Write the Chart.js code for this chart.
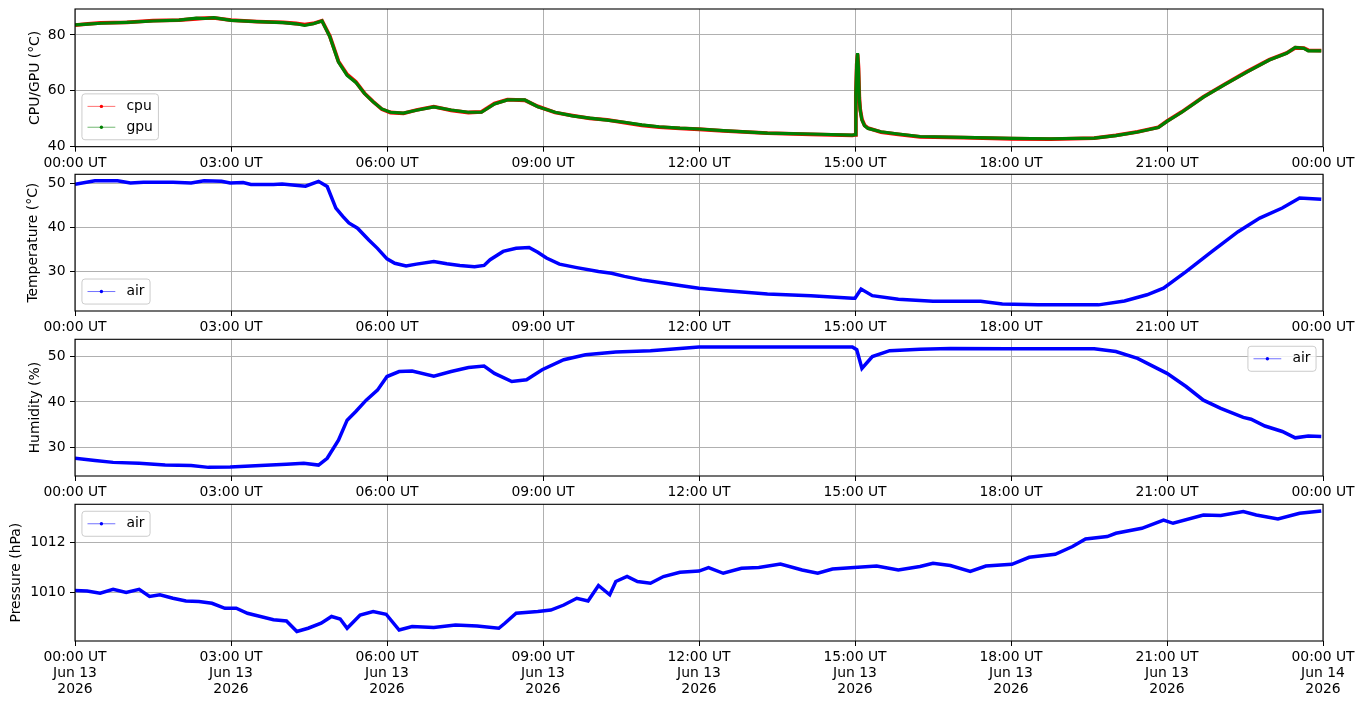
<!DOCTYPE html>
<html lang="en">
<head>
    <meta charset="UTF-8">
    <title>Sensor log, Jun 13 2026</title>
    <script src="https://cdn.jsdelivr.net/npm/chart.js"></script>
    <style>
        body { margin: 0; background: #fff; }
        #figure { position: relative; width: 1364px; height: 707px; }
        #figure canvas { position: absolute; left: 0; }
    </style>
</head>
<body>
<div id="figure">
    <canvas id="cpuChart" width="1364" height="175" style="top:0px"></canvas>
    <canvas id="tempChart" width="1364" height="175" style="top:165px"></canvas>
    <canvas id="humChart" width="1364" height="175" style="top:330px"></canvas>
    <canvas id="presChart" width="1364" height="212" style="top:495px"></canvas>
</div>
<script>
    // x values are minutes after 00:00 UT, Jun 13 2026
    const xTicks = [0, 180, 360, 540, 720, 900, 1080, 1260, 1440];
    const xTickLabels = ['00:00 UT', '03:00 UT', '06:00 UT', '09:00 UT', '12:00 UT', '15:00 UT', '18:00 UT', '21:00 UT', '00:00 UT'];
    const xDateLabels = ['Jun 13', 'Jun 13', 'Jun 13', 'Jun 13', 'Jun 13', 'Jun 13', 'Jun 13', 'Jun 13', 'Jun 14'];
    const xYearLabels = ['2026', '2026', '2026', '2026', '2026', '2026', '2026', '2026', '2026'];

    // CPU / GPU temperature
    const chipTimes = [0, 15, 30, 60, 90, 120, 140, 150, 160, 180, 210, 240, 255, 265, 275, 285, 294, 304, 314, 324,
        334, 344, 354, 364, 379, 394, 414, 434, 454, 469, 484, 499, 519, 534, 554, 574, 594, 614, 634, 654,
        674, 698, 720, 748, 799, 849, 897, 900, 901, 902, 903, 904, 905, 906, 908, 911, 915, 930, 950, 975,
        1025, 1081, 1126, 1176, 1201, 1226, 1250, 1260, 1277, 1302, 1327, 1352, 1378, 1398, 1408, 1418, 1423, 1438];
    const cpuValues = [83.5, 84.0, 84.3, 84.5, 85.1, 85.3, 85.8, 86.0, 86.1, 85.3, 84.8, 84.5, 84.1, 83.7, 84.1, 85.1, 79.6, 70.5, 65.8, 63.2,
        59.1, 56.1, 53.4, 52.2, 51.9, 53.1, 54.3, 53.0, 52.2, 52.4, 55.4, 56.8, 56.6, 54.4, 52.2, 51.1, 50.1, 49.6, 48.6, 47.6,
        47.0, 46.5, 46.2, 45.6, 44.8, 44.4, 44.0, 44.2, 58.5, 69.5, 73.0, 68.5, 57.5, 53.3, 49.8, 47.6, 46.6, 45.2, 44.4, 43.5,
        43.2, 42.8, 42.7, 43.0, 44.0, 45.3, 46.9, 49.1, 52.4, 57.8, 62.4, 66.8, 71.1, 73.5, 75.4, 75.3, 74.5, 74.4];
    const gpuValues = [83.6, 83.9, 84.2, 84.5, 85.0, 85.3, 86.0, 85.9, 86.2, 85.2, 84.8, 84.4, 84.0, 83.4, 84.0, 85.0, 79.4, 70.3, 65.5, 63.0,
        59.0, 56.0, 53.5, 52.3, 52.0, 53.0, 54.2, 53.1, 52.3, 52.3, 55.3, 56.7, 56.7, 54.3, 52.3, 51.0, 50.2, 49.5, 48.7, 47.8,
        47.1, 46.6, 46.3, 45.7, 44.8, 44.5, 44.1, 44.3, 59.0, 70.0, 73.5, 68.0, 57.0, 53.0, 49.5, 47.5, 46.5, 45.3, 44.5, 43.6,
        43.3, 42.9, 42.8, 43.0, 43.9, 45.2, 46.8, 49.0, 52.3, 57.7, 62.3, 66.7, 71.0, 73.4, 75.5, 75.2, 74.3, 74.3];

    // air temperature
    const tempTimes = [0, 23, 49, 64, 79, 113, 134, 149, 169, 179, 194, 203, 229, 239, 254, 266, 281, 291, 301, 309,
        316, 326, 339, 349, 360, 369, 382, 394, 414, 429, 444, 461, 472, 479, 494, 509, 524, 534, 544, 559,
        579, 604, 619, 634, 654, 679, 698, 720, 748, 799, 849, 897, 900, 907, 920, 950, 990, 1045, 1070, 1111,
        1181, 1211, 1237, 1256, 1282, 1312, 1342, 1367, 1393, 1413, 1438];
    const tempValues = [49.8, 50.6, 50.6, 50.1, 50.3, 50.3, 50.1, 50.6, 50.5, 50.1, 50.2, 49.8, 49.8, 49.9, 49.6, 49.4, 50.5, 49.3, 44.4, 42.5,
        41.0, 39.8, 37.1, 35.2, 32.8, 31.8, 31.2, 31.6, 32.2, 31.7, 31.3, 31.0, 31.3, 32.6, 34.5, 35.2, 35.4, 34.3, 33.0, 31.6,
        30.8, 29.9, 29.5, 28.8, 28.0, 27.3, 26.7, 26.1, 25.6, 24.8, 24.4, 23.8, 23.8, 25.9, 24.4, 23.6, 23.1, 23.1, 22.5, 22.3,
        22.3, 23.2, 24.6, 26.1, 29.9, 34.5, 39.0, 42.1, 44.4, 46.7, 46.4];

    // air humidity
    const humTimes = [0, 23, 44, 74, 104, 134, 154, 179, 214, 244, 264, 281, 291, 304, 314, 324, 336, 349, 360, 374,
        389, 414, 434, 454, 472, 484, 504, 521, 539, 564, 589, 624, 664, 698, 720, 897, 902, 908, 920, 940,
        975, 1010, 1076, 1176, 1201, 1226, 1260, 1282, 1302, 1322, 1348, 1357, 1373, 1393, 1408, 1423, 1438];
    const humValues = [27.6, 27.1, 26.7, 26.5, 26.1, 26.0, 25.6, 25.7, 26.0, 26.3, 26.5, 26.1, 27.6, 31.6, 36.0, 37.9, 40.4, 42.6, 45.6, 46.7,
        46.8, 45.7, 46.7, 47.6, 47.9, 46.3, 44.5, 44.9, 47.1, 49.3, 50.4, 51.0, 51.3, 51.8, 52.1, 52.1, 51.5, 47.4, 50.0, 51.3,
        51.6, 51.8, 51.7, 51.7, 51.1, 49.6, 46.3, 43.4, 40.4, 38.6, 36.6, 36.2, 34.7, 33.5, 32.1, 32.5, 32.4];

    // air pressure
    const presTimes = [0, 14, 29, 44, 59, 74, 86, 98, 113, 128, 143, 158, 173, 186, 199, 214, 229, 244, 256, 269,
        284, 296, 306, 314, 329, 344, 359, 374, 389, 414, 439, 464, 489, 496, 509, 534, 549, 564, 579, 592,
        604, 617, 624, 637, 649, 664, 679, 698, 720, 731, 748, 769, 789, 814, 839, 857, 874, 899, 925, 950,
        975, 990, 1010, 1033, 1051, 1081, 1101, 1131, 1151, 1166, 1191, 1201, 1231, 1256, 1267, 1302, 1322, 1348, 1363, 1388,
        1413, 1438];
    const presValues = [1010.07, 1010.05, 1009.96, 1010.12, 1009.99, 1010.12, 1009.83, 1009.90, 1009.76, 1009.65, 1009.63, 1009.56, 1009.36, 1009.36, 1009.16, 1009.03, 1008.90, 1008.85, 1008.43, 1008.56,
        1008.76, 1009.03, 1008.93, 1008.56, 1009.09, 1009.23, 1009.12, 1008.49, 1008.63, 1008.59, 1008.69, 1008.65, 1008.56, 1008.76, 1009.16, 1009.23, 1009.29, 1009.49, 1009.76, 1009.65,
        1010.27, 1009.90, 1010.43, 1010.63, 1010.43, 1010.36, 1010.63, 1010.80, 1010.85, 1010.99, 1010.76, 1010.96, 1010.99, 1011.13, 1010.89, 1010.76, 1010.93, 1010.99, 1011.05, 1010.89,
        1011.03, 1011.16, 1011.07, 1010.83, 1011.05, 1011.12, 1011.40, 1011.52, 1011.83, 1012.13, 1012.23, 1012.36, 1012.56, 1012.89, 1012.76, 1013.09, 1013.07, 1013.23, 1013.09, 1012.93,
        1013.16, 1013.25];

    const cpuTicks = [40, 60, 80];
    const tempTicks = [30, 40, 50];
    const humTicks = [30, 40, 50];
    const presTicks = [1010, 1012];

    Chart.defaults.font.family = '"DejaVu Sans", sans-serif';
    Chart.defaults.font.size = 13.9;
    Chart.defaults.color = '#000';

    const FS = 13.9;

    function toPoints(times, values) {
        return times.map((t, i) => ({ x: t, y: values[i] }));
    }

    // black box around the plot area, like matplotlib spines
    const framePlugin = {
        id: 'frame',
        afterDatasetsDraw(chart) {
            const { ctx, chartArea: a } = chart;
            ctx.save();
            ctx.strokeStyle = '#000';
            ctx.lineWidth = 1.1;
            ctx.strokeRect(a.left, a.top, a.right - a.left, a.bottom - a.top);
            ctx.restore();
        }
    };

    // legend drawn inside the axes
    const legendPlugin = {
        id: 'innerLegend',
        afterDraw(chart, args, opts) {
            const { ctx, chartArea: a } = chart;
            const pad = 0.4 * FS, handle = 2 * FS, gap = 0.8 * FS, edge = 0.5 * FS;
            const items = chart.data.datasets;
            ctx.save();
            ctx.font = FS + 'px "DejaVu Sans"';
            const textW = Math.max(...items.map(d => ctx.measureText(d.label).width));
            const w = pad + handle + gap + textW + pad;
            const h = 2 * pad + items.length * FS + (items.length - 1) * 0.5 * FS;
            const x = opts.loc.includes('left') ? a.left + edge : a.right - edge - w;
            const y = opts.loc.includes('upper') ? a.top + edge : a.bottom - edge - h;

            ctx.beginPath();
            ctx.roundRect(x, y, w, h, 3);
            ctx.fillStyle = 'rgba(255,255,255,0.8)';
            ctx.fill();
            ctx.strokeStyle = '#cccccc';
            ctx.lineWidth = 1;
            ctx.stroke();

            items.forEach((d, i) => {
                const cy = y + pad + i * 1.5 * FS + FS / 2;
                ctx.strokeStyle = d.borderColor;
                ctx.globalAlpha = 0.7;
                ctx.lineWidth = 0.8;
                ctx.beginPath();
                ctx.moveTo(x + pad, cy);
                ctx.lineTo(x + pad + handle, cy);
                ctx.stroke();
                ctx.globalAlpha = 1;
                ctx.fillStyle = d.borderColor;
                ctx.beginPath();
                ctx.arc(x + pad + handle / 2, cy, 1.7, 0, Math.PI * 2);
                ctx.fill();
                ctx.fillStyle = '#000';
                ctx.textBaseline = 'middle';
                ctx.textAlign = 'left';
                ctx.fillText(d.label, x + pad + handle + gap, cy);
            });
            ctx.restore();
        }
    };

    function makePanel(id, p) {
        const canvas = document.getElementById(id);
        return new Chart(canvas.getContext('2d'), {
            type: 'line',
            data: { datasets: p.datasets },
            options: {
                responsive: false,
                animation: false,
                events: [],
                layout: { padding: { left: 0, right: 41, top: p.top, bottom: 0 } },
                elements: {
                    point: { radius: 0 },
                    line: { tension: 0 }
                },
                plugins: {
                    legend: { display: false },
                    tooltip: { enabled: false },
                    innerLegend: { loc: p.legendLoc }
                },
                scales: {
                    x: {
                        type: 'linear',
                        min: 0,
                        max: 1440,
                        afterBuildTicks: axis => { axis.ticks = xTicks.map(v => ({ value: v })); },
                        afterFit: axis => { axis.height = canvas.height - p.bottom; },
                        grid: { color: '#b0b0b0', lineWidth: 1, tickColor: '#000', tickLength: 5, tickWidth: 1 },
                        border: { display: false },
                        ticks: {
                            maxRotation: 0,
                            autoSkip: false,
                            padding: 3.5,
                            font: { size: FS, lineHeight: 1.15 },
                            callback: value => {
                                const i = xTicks.indexOf(value);
                                return p.dateLines ? [xTickLabels[i], xDateLabels[i], xYearLabels[i]] : xTickLabels[i];
                            }
                        }
                    },
                    y: {
                        type: 'linear',
                        min: p.yMin,
                        max: p.yMax,
                        afterBuildTicks: axis => { axis.ticks = p.yTicks.map(v => ({ value: v })); },
                        afterFit: axis => {
                            axis.width = 75;
                            axis.paddingTop = 0;
                            axis.paddingBottom = 0;
                        },
                        grid: { color: '#b0b0b0', lineWidth: 1, tickColor: '#000', tickLength: 5, tickWidth: 1 },
                        border: { display: false },
                        ticks: { padding: 4.5, font: { size: FS }, callback: value => String(value) },
                        title: {
                            display: true,
                            text: p.yTitle,
                            font: { size: FS },
                            padding: { top: p.titlePad, bottom: 0 }
                        }
                    }
                }
            },
            plugins: [framePlugin, legendPlugin]
        });
    }

    makePanel('cpuChart', {
        top: 9, bottom: 146.7, yMin: 39.95, yMax: 89.3, yTicks: cpuTicks,
        yTitle: 'CPU/GPU (°C)', titlePad: 27.5, legendLoc: 'lower left',
        datasets: [
            { label: 'cpu', data: toPoints(chipTimes, cpuValues), borderColor: '#ff0000', borderWidth: 3.8, order: 1 },
            { label: 'gpu', data: toPoints(chipTimes, gpuValues), borderColor: '#008000', borderWidth: 3.2, order: 0 }
        ]
    });

    makePanel('tempChart', {
        top: 9.3, bottom: 146, yMin: 20.9, yMax: 52.1, yTicks: tempTicks,
        yTitle: 'Temperature (°C)', titlePad: 25.3, legendLoc: 'lower left',
        datasets: [
            { label: 'air', data: toPoints(tempTimes, tempValues), borderColor: '#0000ff', borderWidth: 3.5 }
        ]
    });

    makePanel('humChart', {
        top: 9.3, bottom: 146, yMin: 23.7, yMax: 53.8, yTicks: humTicks,
        yTitle: 'Humidity (%)', titlePad: 27.5, legendLoc: 'upper right',
        datasets: [
            { label: 'air', data: toPoints(humTimes, humValues), borderColor: '#0000ff', borderWidth: 3.5 }
        ]
    });

    makePanel('presChart', {
        top: 9.3, bottom: 146, yMin: 1008.05, yMax: 1013.52, yTicks: presTicks,
        yTitle: 'Pressure (hPa)', titlePad: 8.5, legendLoc: 'upper left', dateLines: true,
        datasets: [
            { label: 'air', data: toPoints(presTimes, presValues), borderColor: '#0000ff', borderWidth: 3.5 }
        ]
    });
</script>
</body>
</html>
